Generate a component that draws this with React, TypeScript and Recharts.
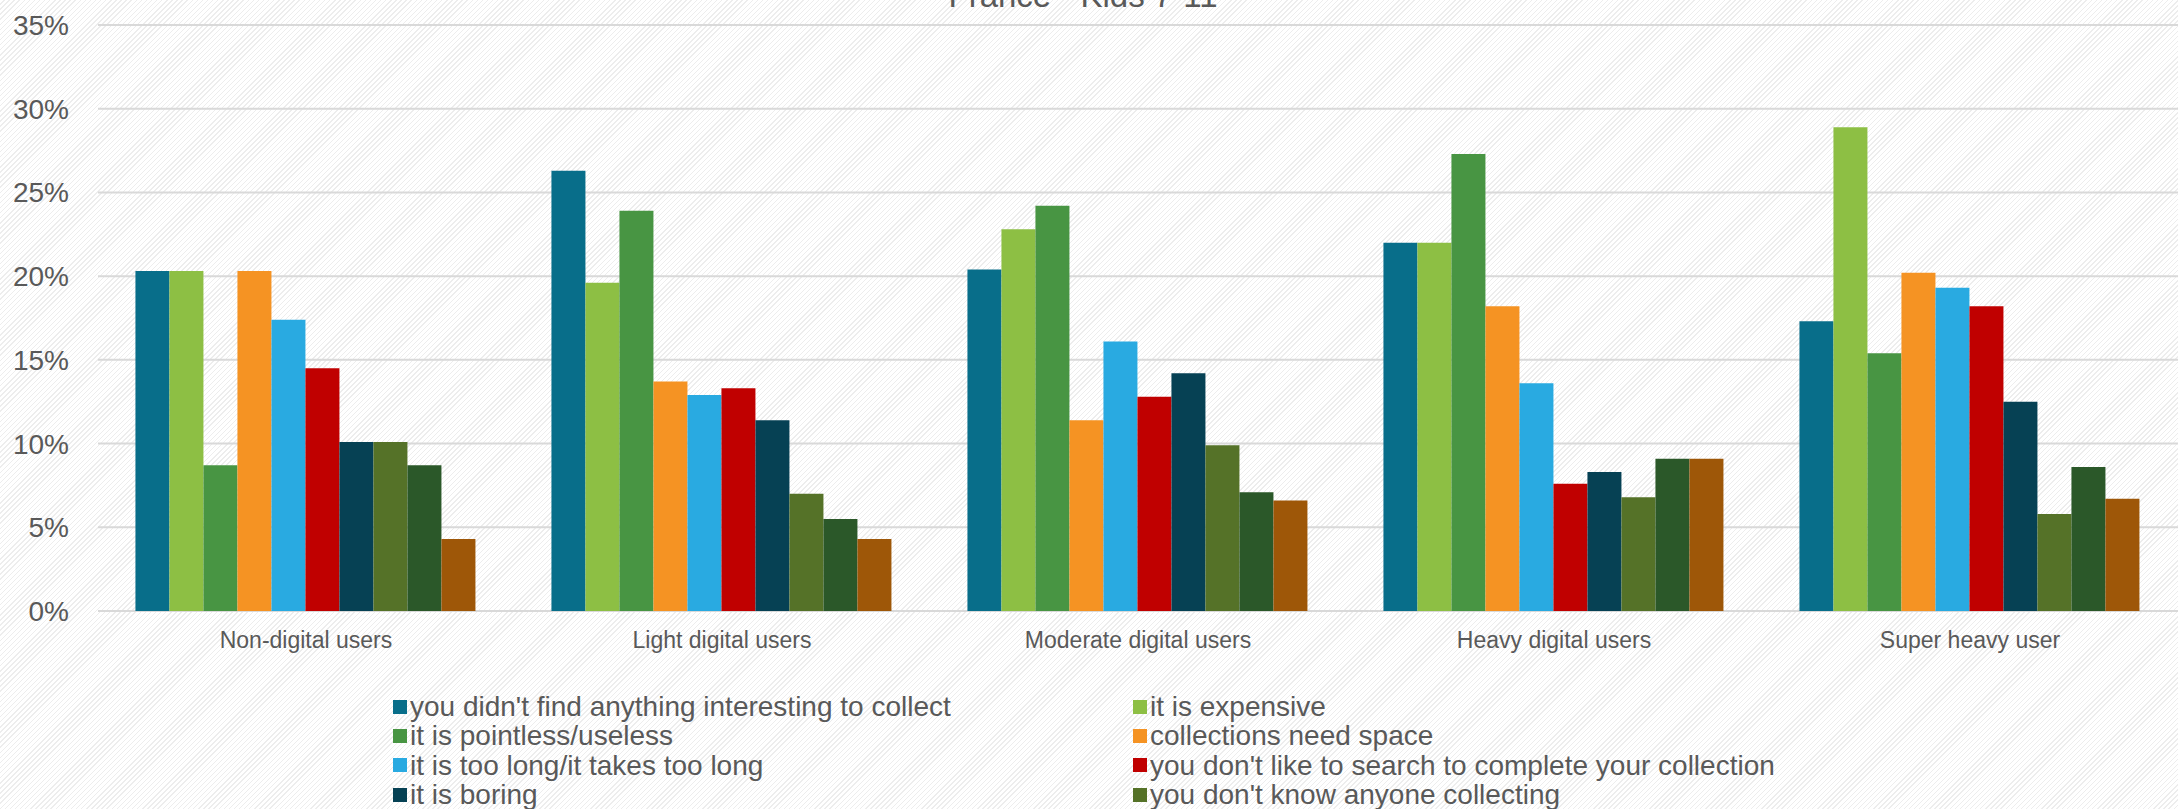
import { BarChart, Bar, XAxis, YAxis, CartesianGrid, Legend } from 'recharts';

const categories = [
  'Non-digital users',
  'Light digital users',
  'Moderate digital users',
  'Heavy digital users',
  'Super heavy user',
];

const noInterest = [20.3, 26.3, 20.4, 22.0, 17.3];
const expensive = [20.3, 19.6, 22.8, 22.0, 28.9];
const pointless = [8.7, 23.9, 24.2, 27.3, 15.4];
const needSpace = [20.3, 13.7, 11.4, 18.2, 20.2];
const tooLong = [17.4, 12.9, 16.1, 13.6, 19.3];
const noSearch = [14.5, 13.3, 12.8, 7.6, 18.2];
const boring = [10.1, 11.4, 14.2, 8.3, 12.5];
const noOneCollecting = [10.1, 7.0, 9.9, 6.8, 5.8];
const friendsDont = [8.7, 5.5, 7.1, 9.1, 8.6];
const otherReason = [4.3, 4.3, 6.6, 9.1, 6.7];

const yTicks = [0, 5, 10, 15, 20, 25, 30, 35];

const series = [
  { key: 's1', name: "you didn't find anything interesting to collect", values: noInterest, color: '#086E8A' },
  { key: 's2', name: 'it is expensive', values: expensive, color: '#8DBF44' },
  { key: 's3', name: 'it is pointless/useless', values: pointless, color: '#489543' },
  { key: 's4', name: 'collections need space', values: needSpace, color: '#F59323' },
  { key: 's5', name: 'it is too long/it takes too long', values: tooLong, color: '#29AAE1' },
  { key: 's6', name: "you don't like to search to complete your collection", values: noSearch, color: '#C00000' },
  { key: 's7', name: 'it is boring', values: boring, color: '#064154' },
  { key: 's8', name: "you don't know anyone collecting", values: noOneCollecting, color: '#557228' },
  { key: 's9', name: "your friends don't collect", values: friendsDont, color: '#2B5829' },
  { key: 's10', name: 'other reasons', values: otherReason, color: '#9E5708' },
];

const data = categories.map((name, i) => {
  const row: Record<string, string | number> = { name };
  series.forEach((s) => {
    row[s.key] = s.values[i];
  });
  return row;
});

const FONT = '"Liberation Sans", Arial, sans-serif';
const TEXT = '#595959';

const ChartLegend = () => (
  <div style={{ display: 'grid', gridTemplateColumns: '740px 740px', fontFamily: FONT }}>
    {series.map((s) => (
      <div key={s.key} style={{ display: 'flex', alignItems: 'center', height: 29.3 }}>
        <span style={{ width: 14, height: 14, background: s.color, marginRight: 3, flexShrink: 0 }} />
        <span style={{ fontSize: 28, lineHeight: '29px', color: TEXT, whiteSpace: 'nowrap' }}>{s.name}</span>
      </div>
    ))}
  </div>
);

export default function App() {
  return (
    <div
      style={{
        position: 'fixed',
        left: 0,
        top: 0,
        width: 2178,
        height: 809,
        overflow: 'hidden',
        background:
          'repeating-linear-gradient(135deg, #ffffff 0px, #ffffff 2.6px, #ededed 2.6px, #ededed 3.6px)',
        fontFamily: FONT,
      }}
    >
      <div
        style={{
          position: 'absolute',
          left: 0,
          top: -21,
          width: 2166,
          textAlign: 'center',
          fontSize: 33,
          lineHeight: '33px',
          color: TEXT,
        }}
      >
        France - Kids 7-11
      </div>
      <BarChart
        width={2178}
        height={809}
        data={data}
        margin={{ top: 25, right: 0, left: 0, bottom: 138 }}
        barCategoryGap="9%"
        barGap={0}
        style={{ fontFamily: FONT }}
      >
        <CartesianGrid vertical={false} stroke="#d9d9d9" strokeWidth={2} />
        <XAxis
          dataKey="name"
          height={60}
          axisLine={false}
          tickLine={false}
          tickSize={0}
          tickMargin={21}
          tick={{ fontSize: 23, fill: TEXT }}
          interval={0}
        />
        <YAxis
          width={98}
          domain={[0, 35]}
          ticks={yTicks}
          axisLine={false}
          tickLine={false}
          tickSize={0}
          tickMargin={29}
          tickFormatter={(v: number) => `${v}%`}
          tick={{ fontSize: 28, fill: TEXT }}
        />
        <Legend
          layout="horizontal"
          verticalAlign="middle"
          align="center"
          wrapperStyle={{ top: 692, left: 393, width: 1500, height: 150 }}
          content={() => <ChartLegend />}
        />
        {series.map((s) => (
          <Bar key={s.key} dataKey={s.key} name={s.name} fill={s.color} isAnimationActive={false} />
        ))}
      </BarChart>
    </div>
  );
}
